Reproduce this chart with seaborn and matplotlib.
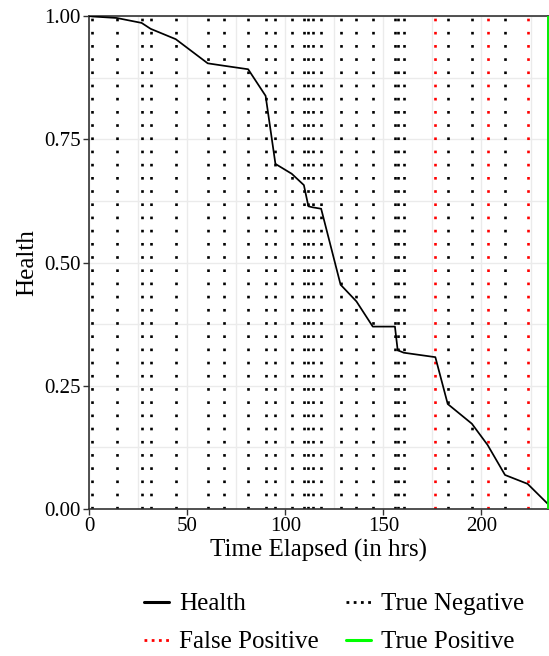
import numpy as np
import pandas as pd
import seaborn as sns
from matplotlib import pyplot as plt
from matplotlib.lines import Line2D

# health trajectory (hrs, health)
health_time = [0, 1.7, 14.1, 26.8, 31.4, 44.2, 60.5, 68.9, 81.1, 90.0, 95.0, 103.3, 109.5, 111.8,
               113.9, 118.3, 128.2, 136.3, 144.6, 155.9, 157.3, 160.4, 176.5, 182.8, 195.1,
               203.1, 212.0, 223.5, 233.9]
health_value = [1.0, 0.999, 0.996, 0.986, 0.974, 0.953, 0.904, 0.899, 0.892, 0.838, 0.700, 0.680,
                0.657, 0.614, 0.612, 0.609, 0.455, 0.421, 0.370, 0.370, 0.322, 0.317, 0.308,
                0.213, 0.173, 0.130, 0.069, 0.051, 0.010]

# alarm outcomes (hrs)
true_negative = [1.7, 14.1, 26.8, 31.4, 44.2, 60.5, 68.9, 81.1, 90.0, 95.0, 103.3, 109.5, 111.8,
                 113.9, 118.3, 128.2, 136.3, 144.6, 155.9, 157.3, 160.4, 182.8, 195.1, 212.0]
false_positive = [176.5, 203.1, 223.5]
true_positive = [233.9]

x_ticks = [0, 50, 100, 150, 200]
y_ticks = [0.0, 0.25, 0.5, 0.75, 1.0]

#%%
sns.set_theme(style="white")
plt.rcParams["font.family"] = ["Liberation Serif", "DejaVu Serif"]
plt.rcParams["text.color"] = "black"
plt.rcParams["axes.labelcolor"] = "black"

W, H = 549, 656
fig = plt.figure(figsize=(W / 100, H / 100), dpi=100)
ax = fig.add_axes([89 / W, 1 - 509 / H, (548 - 89) / W, (509 - 16) / H])

grid_color = "#EBEBEB"
ax.set_xticks(x_ticks)
ax.set_xticks([25, 75, 125, 175, 225], minor=True)
ax.set_yticks(y_ticks)
ax.set_yticks([0.125, 0.375, 0.625, 0.875], minor=True)
ax.grid(True, which="both", color=grid_color, linewidth=1.0, zorder=0)
ax.set_axisbelow(True)

dot_style = (0, (1, 4.0))
ax.vlines(true_negative, 0, 1, colors="black", linestyles=[dot_style], linewidth=1.9, zorder=2)
ax.vlines(false_positive, 0, 1, colors="#FF0000", linestyles=[dot_style], linewidth=1.9, zorder=2)
ax.vlines(true_positive, 0, 1, colors="#00FF00", linewidth=1.3, zorder=5, clip_on=False)

df = pd.DataFrame({"time": health_time, "health": health_value})
sns.lineplot(data=df, x="time", y="health", color="black", linewidth=1.25, ax=ax, zorder=3)

ax.set_xlim(0, 233.9)
ax.set_ylim(0, 1)
ax.set_yticklabels([f"{v:.2f}" for v in y_ticks])
ax.set_xlabel("Time Elapsed (in hrs)", fontsize=18, labelpad=2)
ax.set_ylabel("Health", fontsize=18, labelpad=4)
ax.tick_params(axis="both", which="major", labelsize=15, length=4, width=1, color="#333333",
               labelcolor="black", pad=2, bottom=True, left=True)
ax.tick_params(which="minor", length=0)
for side in ["left", "bottom", "top", "right"]:
    ax.spines[side].set_color("#333333")
    ax.spines[side].set_linewidth(1.2)

handles = [
    Line2D([], [], color="black", linewidth=2.2),
    Line2D([], [], color="#FF0000", linewidth=2.0, linestyle=(0, (1, 1.6))),
    Line2D([], [], color="black", linewidth=2.0, linestyle=(0, (1, 1.6))),
    Line2D([], [], color="#00FF00", linewidth=2.2),
]
labels = ["Health", "False Positive", "True Negative", "True Positive"]
fig.legend(handles, labels, loc="center", bbox_to_anchor=(334 / W, 1 - 623 / H), ncol=2,
           frameon=False, fontsize=18, handlelength=1.0, handletextpad=0.4,
           columnspacing=1.1, labelspacing=0.62, labelcolor="black")

plt.savefig("out.png", dpi=100)
plt.close()
